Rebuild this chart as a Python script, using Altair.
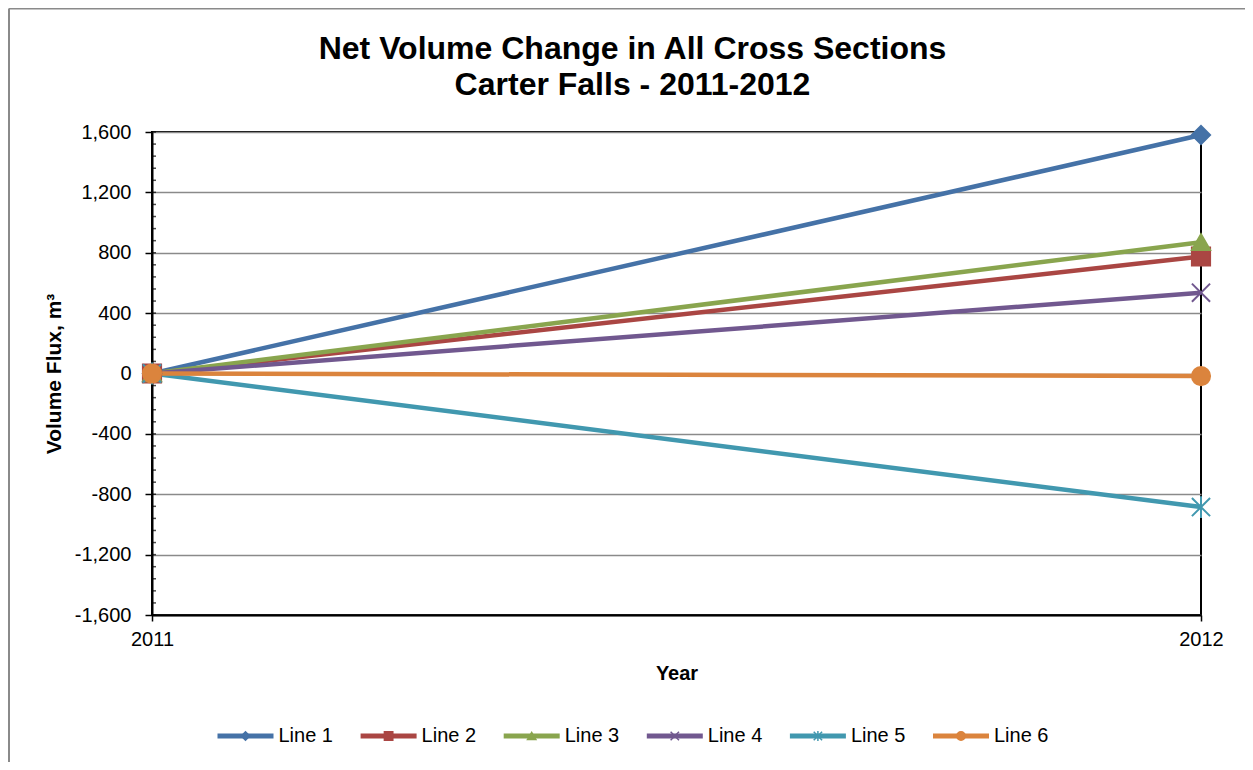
import altair as alt
import pandas as pd

years = [2011, 2012]
series = ["Line 1", "Line 2", "Line 3", "Line 4", "Line 5", "Line 6"]
start_values = [0, 0, 0, 0, 0, 0]
end_values = [1580, 775, 870, 535, -885, -17]
colors = ["#4572A7", "#AA4643", "#89A54E", "#71588F", "#4198AF", "#DB843D"]
shapes = [
    "diamond",
    "square",
    "triangle-up",
    "M-1,-1L1,1M-1,1L1,-1",
    "M-1,-1L1,1M-1,1L1,-1M0,-1.2L0,1.2",
    "circle",
]
y_ticks = [-1600, -1200, -800, -400, 0, 400, 800, 1200, 1600]
y_minor = list(range(-1600, 1601, 80))
title_lines = ["Net Volume Change in All Cross Sections", "Carter Falls - 2011-2012"]

rows = []
for s, a, b in zip(series, start_values, end_values):
    rows.append({"series": s, "year": years[0], "value": a})
    rows.append({"series": s, "year": years[1], "value": b})
df = pd.DataFrame(rows)
legend_df = pd.DataFrame({"series": series})
minor_df = pd.DataFrame({"value": y_minor})

FONT = "Liberation Sans"
W, H = 1049, 483

color = alt.Color("series:N", scale=alt.Scale(domain=series, range=colors), legend=None)
stroke = alt.Stroke("series:N", scale=alt.Scale(domain=series, range=colors), legend=None)
shape = alt.Shape("series:N", scale=alt.Scale(domain=series, range=shapes), legend=None)

xscale = alt.Scale(domain=[2011, 2012], nice=False, zero=False)
yscale = alt.Scale(domain=[-1600, 1600], nice=False, zero=False)

yaxis = alt.Axis(values=y_ticks,
                 labelExpr="replace(format(datum.value, ','), '−', '-')",
                 title="Volume  Flux, m³",
                 grid=True, gridColor="#8a8a8a", gridWidth=1.5,
                 labelFlush=False, labelOverlap=False,
                 tickSize=7, labelPadding=14,
                 titleX=-98, titleY=H / 2, titleAngle=270,
                 titleAlign="center", titleBaseline="middle",
                 titleFontSize=21)

lines = alt.Chart(df).mark_line(strokeWidth=4.5).encode(
    x=alt.X("year:Q", scale=xscale,
            axis=alt.Axis(values=years, labelExpr="format(datum.value, 'd')", title="Year",
                          grid=False, labelFlush=False, labelOverlap=False,
                          tickSize=6, labelPadding=8, titleY=58, titleBaseline="middle")),
    y=alt.Y("value:Q", scale=yscale, axis=yaxis),
    color=color,
    order=alt.Order("series:N"),
)

minor = alt.Chart(minor_df).mark_tick(orient="horizontal", size=4, thickness=1.5,
                                      color="#000000").encode(
    y=alt.Y("value:Q", scale=yscale, axis=yaxis),
    x=alt.value(2),
)

points = alt.Chart(df).mark_point(filled=True, opacity=1, strokeWidth=2, size=330).encode(
    x=alt.X("year:Q", scale=xscale, axis=None),
    y=alt.Y("value:Q", scale=yscale, axis=yaxis),
    color=color,
    stroke=stroke,
    shape=shape,
)

lx = alt.X("series:N", scale=alt.Scale(type="point", domain=series, range=[93.5, 809], padding=0),
           axis=None)
leg_rule = alt.Chart(legend_df).mark_rule(strokeWidth=5, xOffset=-28, x2Offset=28).encode(
    x=lx, x2=alt.X2("series:N"), y=alt.value(604), color=color,
)
leg_pt = alt.Chart(legend_df).mark_point(filled=True, opacity=1, strokeWidth=1.5, size=70).encode(
    x=lx, y=alt.value(604), color=color, stroke=stroke, shape=shape,
)
leg_txt = alt.Chart(legend_df).mark_text(align="left", baseline="middle", dx=33, font=FONT,
                                         fontSize=20, color="#000000").encode(
    x=lx, y=alt.value(604), text="series:N",
)

one = pd.DataFrame({"k": [0]})
title1 = alt.Chart(one).mark_text(text=title_lines[0], font=FONT, fontSize=32, fontWeight="bold",
                                  color="#000000", align="center", baseline="alphabetic").encode(
    x=alt.value(480.5), y=alt.value(-73))
title2 = alt.Chart(one).mark_text(text=title_lines[1], font=FONT, fontSize=32, fontWeight="bold",
                                  color="#000000", align="center", baseline="alphabetic").encode(
    x=alt.value(480.5), y=alt.value(-37))

frame_left = alt.Chart(one).mark_rule(color="#8a8a8a", strokeWidth=2).encode(
    x=alt.value(-143), y=alt.value(-123.5), y2=alt.value(H + 147))
frame_top = alt.Chart(one).mark_rule(color="#8a8a8a", strokeWidth=2).encode(
    x=alt.value(-143), x2=alt.value(W + 44), y=alt.value(-123.5))

chart = alt.layer(
    lines, minor, points, leg_rule, leg_pt, leg_txt, title1, title2, frame_left, frame_top
).resolve_scale(x="independent").properties(
    width=W, height=H,
    padding={"left": 144, "top": 124, "right": 44, "bottom": 147},
    autosize=alt.AutoSizeParams(type="none"),
).configure_view(stroke="#000000", strokeWidth=2).configure_axis(
    domainColor="#000000", domainWidth=2, tickColor="#000000", tickWidth=1.5,
    labelFont=FONT, labelFontSize=20, labelColor="#000000",
    titleFont=FONT, titleFontSize=20, titleFontWeight="bold", titleColor="#000000",
)

chart.save("out.html", embed_options={"renderer": "svg", "actions": False})
